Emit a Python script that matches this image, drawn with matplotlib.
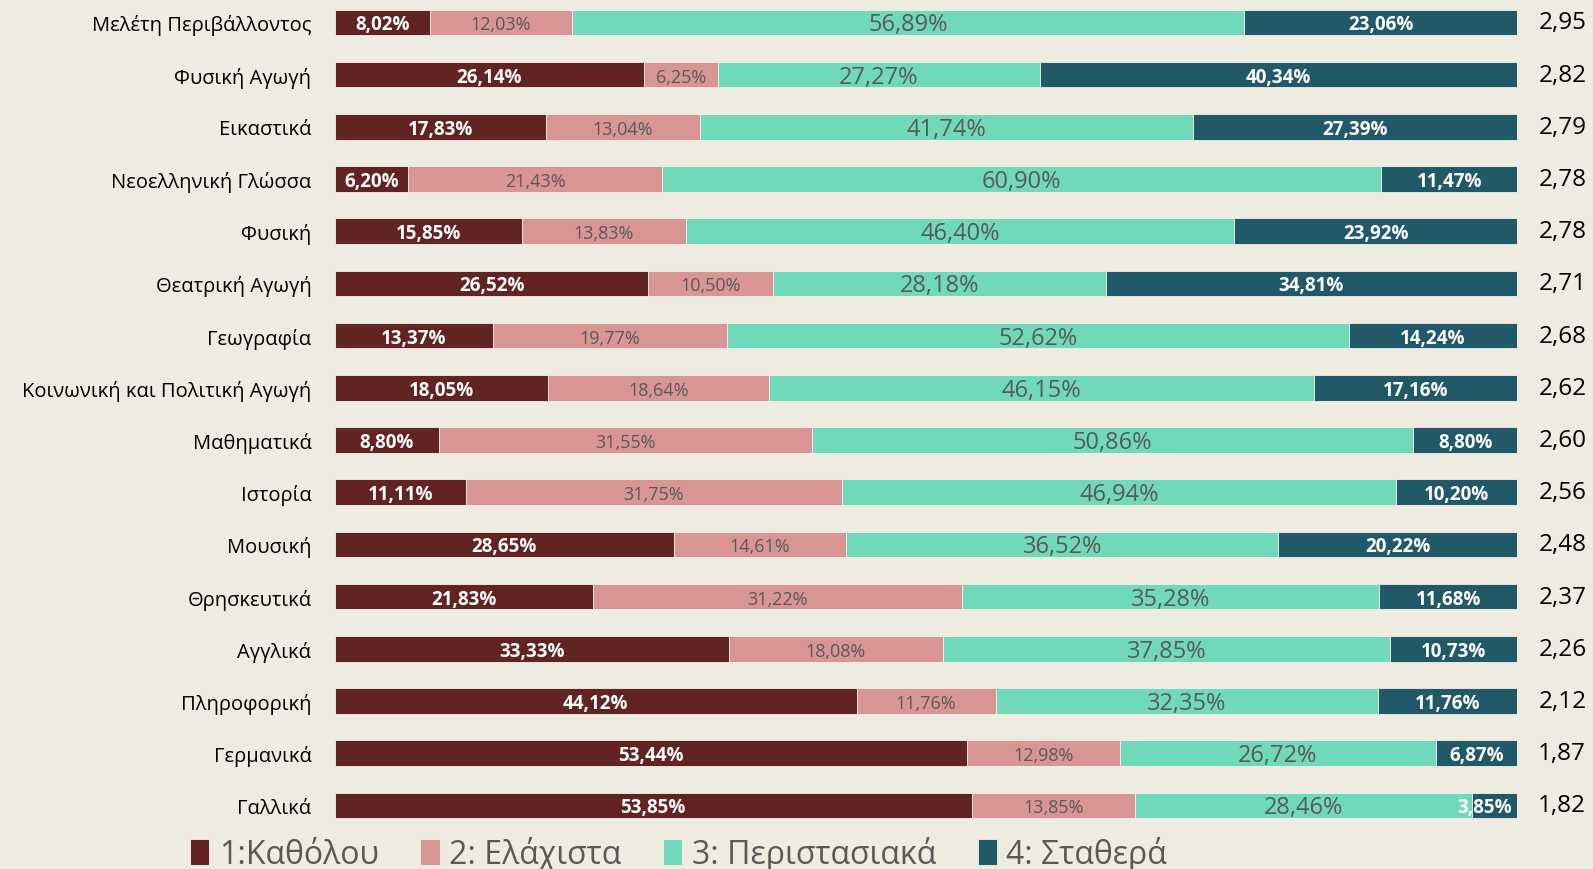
import matplotlib.pyplot as plt
import numpy as np

# =========================
# DATA
# =========================
subjects = [
    "Μελέτη Περιβάλλοντος", "Φυσική Αγωγή", "Εικαστικά", "Νεοελληνική Γλώσσα",
    "Φυσική", "Θεατρική Αγωγή", "Γεωγραφία", "Κοινωνική και Πολιτική Αγωγή",
    "Μαθηματικά", "Ιστορία", "Μουσική", "Θρησκευτικά", "Αγγλικά",
    "Πληροφορική", "Γερμανικά", "Γαλλικά",
]
never = [8.02, 26.14, 17.83, 6.20, 15.85, 26.52, 13.37, 18.05, 8.80, 11.11,
         28.65, 21.83, 33.33, 44.12, 53.44, 53.85]
least = [12.03, 6.25, 13.04, 21.43, 13.83, 10.50, 19.77, 18.64, 31.55, 31.75,
         14.61, 31.22, 18.08, 11.76, 12.98, 13.85]
occasional = [56.89, 27.27, 41.74, 60.90, 46.40, 28.18, 52.62, 46.15, 50.86, 46.94,
              36.52, 35.28, 37.85, 32.35, 26.72, 28.46]
constant = [23.06, 40.34, 27.39, 11.47, 23.92, 34.81, 14.24, 17.16, 8.80, 10.20,
            20.22, 11.68, 10.73, 11.76, 6.87, 3.85]
mean_score = [2.95, 2.82, 2.79, 2.78, 2.78, 2.71, 2.68, 2.62, 2.60, 2.56,
              2.48, 2.37, 2.26, 2.12, 1.87, 1.82]
series_names = ["1:Καθόλου", "2: Ελάχιστα", "3: Περιστασιακά", "4: Σταθερά"]

# =========================
# STYLE
# =========================
BG = "#EEEBE1"
COLORS = ["#622323", "#D99594", "#70D9BA", "#215968"]
LABEL_STYLE = [
    dict(color="white", fontsize=13.5, fontweight="bold"),
    dict(color="#595959", fontsize=13),
    dict(color="#595959", fontsize=17),
    dict(color="white", fontsize=13.5, fontweight="bold"),
]
plt.rcParams["font.family"] = ["Open Sans", "DejaVu Sans"]

fig = plt.figure(figsize=(15.93, 8.70), dpi=100, facecolor=BG)
ax = fig.add_axes([0.2103, 0.0431, 0.742, 0.96])
ax.set_facecolor(BG)

y = np.arange(len(subjects))
left = np.zeros(len(subjects))
for vals, col, name, style in zip([never, least, occasional, constant], COLORS,
                                  series_names, LABEL_STYLE):
    vals = np.array(vals)
    ax.barh(y, vals, left=left, height=0.49, color=col, edgecolor="#F4F1EA",
            linewidth=0.6, label=name)
    for yi, l, v in zip(y, left, vals):
        txt = f"{v:.2f}%".replace(".", ",")
        if l + v >= 99.9 and v < 5:
            # too narrow: keep the label inside the bar end
            ax.text(99.6, yi + 0.04, txt, ha="right", va="center", **style)
        else:
            ax.text(l + v / 2, yi + 0.04, txt, ha="center", va="center", **style)
    left += vals

for yi, s in zip(y, mean_score):
    ax.text(101.8, yi, f"{s:.2f}".replace(".", ","), ha="left", va="center",
            fontsize=17.5, color="black", clip_on=False)

ax.set_xlim(0, 100)
ax.set_ylim(len(subjects) - 0.5, -0.5)
ax.set_yticks(y)
ax.set_yticklabels(subjects, fontsize=14.5, color="black")
ax.tick_params(axis="y", length=0, pad=17)
ax.set_xticks([])
for sp in ax.spines.values():
    sp.set_visible(False)

leg = fig.legend(loc="center", bbox_to_anchor=(0.426, 0.018), ncol=4,
                 frameon=False, fontsize=23, handlelength=0.6, handleheight=0.9,
                 handletextpad=0.3, columnspacing=1.3, labelcolor="#595959")

fig.savefig("out.png", dpi=100, facecolor=BG)
